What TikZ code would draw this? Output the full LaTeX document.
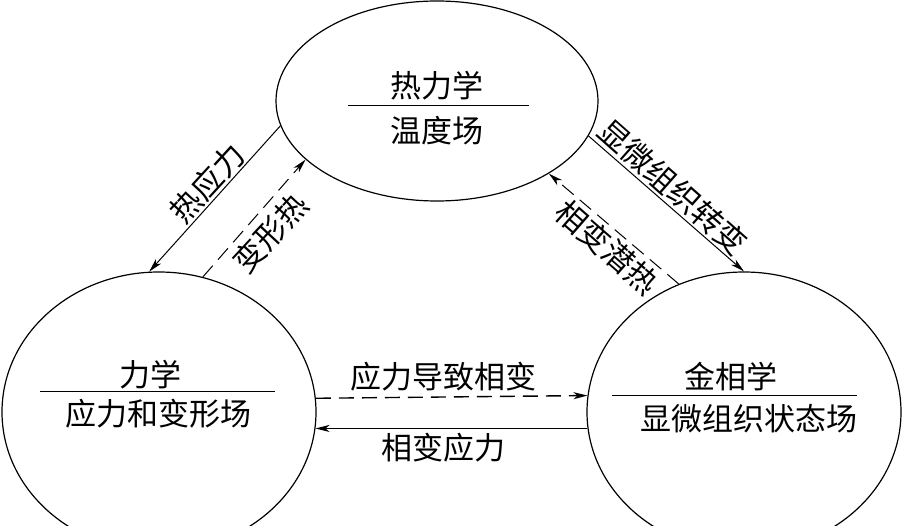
\documentclass[tikz,border=0pt]{standalone}
\usepackage{fontspec}
\newfontfamily\cjk{Noto Sans CJK SC}
\usetikzlibrary{arrows.meta,shapes.geometric}
\tikzset{
  field/.style={ellipse, draw, line width=1.2pt, minimum width=314pt, minimum height=280pt, inner sep=0pt},
  topfield/.style={ellipse, draw, line width=1.2pt, minimum width=322pt, minimum height=200pt, inner sep=0pt},
  txt/.style={font=\cjk\fontsize{31}{33}\selectfont, inner sep=0pt},
  sep/.style={line width=1pt},
  link/.style={line width=1pt, -{Stealth[length=14pt,width=7pt,inset=4pt]}},
  dlink/.style={link, dash pattern=on 15pt off 8pt},
  hdlink/.style={dlink, line width=1.4pt},
}
\begin{document}
\begin{tikzpicture}[x=1pt,y=-1pt]
\useasboundingbox (0,0) rectangle (903,526);
\clip (0,0) rectangle (903,526);
% fields
\node[topfield] (T) at (437,101) {};
\node[field] (L) at (159,412) {};
\node[field] (R) at (744,412) {};
% texts inside
\node[txt] (t1) at (437,86) {热力学};
\node[txt] (t2) at (437,131) {温度场};
\draw[sep] (348,106) -- (529,106);
\node[txt] (l1) at (150,375) {力学};
\node[txt] (l2) at (158,414) {应力和变形场};
\draw[sep] (40,392) -- (275,392);
\node[txt] (r1) at (731,377) {金相学};
\node[txt] (r2) at (749,419) {显微组织状态场};
\draw[sep] (612,396) -- (857,396);
% connectors
\draw[link] (T.189.9) -- (L.94.6);
\draw[dlink] (L.72.8) -- (T.204.8);
\draw[link] (T.347.2) -- (R.90.4);
\draw[dlink] (R.117.5) -- (T.327.5);
\draw[hdlink] (L.5.49) -- (R.174.51);
\draw[link] (R.186.23) -- (L.-6.23);
% labels
\node[txt, rotate=47.5] (a1) at (207,183) {热应力};
\node[txt, rotate=47.1] (a2) at (270,233) {变形热};
\node[txt, rotate=-41.5] (b1) at (673,187) {显微组织转变};
\node[txt, rotate=-41.2] (b2) at (607,247) {相变潜热};
\node[txt] (c1) at (443,377) {应力导致相变};
\node[txt] (c2) at (443,448) {相变应力};
\end{tikzpicture}
\end{document}
